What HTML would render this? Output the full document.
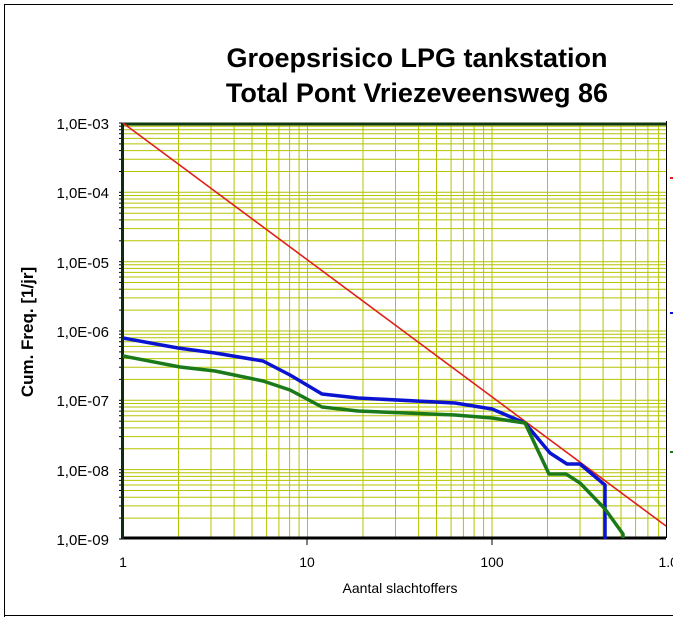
<!DOCTYPE html>
<html><head><meta charset="utf-8"><style>
html,body{margin:0;padding:0;background:#fff;width:673px;height:617px;overflow:hidden;}
svg{display:block;font-family:"Liberation Sans",Arial,sans-serif;overflow:hidden;}
</style></head><body>
<svg width="673" height="617" viewBox="0 0 673 617" xmlns="http://www.w3.org/2000/svg">
<rect x="0" y="0" width="673" height="617" fill="#fff"/>
<path d="M4.5,617 V4.5 H673 M4.5,615.5 H673" fill="none" stroke="#000" stroke-width="1"/>
<text x="417" y="67" text-anchor="middle" font-size="27" font-weight="bold">Groepsrisico LPG tankstation</text>
<text x="417" y="102" text-anchor="middle" font-size="27" font-weight="bold">Total Pont Vriezeveensweg 86</text>
<text x="400" y="593" text-anchor="middle" font-size="14">Aantal slachtoffers</text>
<text transform="translate(33,332) rotate(-90)" text-anchor="middle" font-size="17" font-weight="bold">Cum. Freq. [1/jr]</text>
<g font-size="15" text-anchor="end">
<text x="109" y="129">1,0E-03</text>
<text x="109" y="198">1,0E-04</text>
<text x="109" y="268">1,0E-05</text>
<text x="109" y="337">1,0E-06</text>
<text x="109" y="406">1,0E-07</text>
<text x="109" y="476">1,0E-08</text>
<text x="109" y="545">1,0E-09</text>
</g>
<g font-size="14" text-anchor="middle">
<text x="123" y="567">1</text>
<text x="307" y="567">10</text>
<text x="492" y="567">100</text>
<text x="676" y="567">1.000</text>
</g>
</svg>
<script>
(function(){
var svg=document.querySelector('svg');var ns='http://www.w3.org/2000/svg';
function el(t,a){var e=document.createElementNS(ns,t);for(var k in a)e.setAttribute(k,a[k]);return e;}
var X=function(n){return 123+184.5*Math.log10(n);};
var Y=function(f){return 123+69.33*(-3-Math.log10(f));};
var g=el('g',{stroke:'#b5c400','stroke-width':'1'});
for(var d=0;d<3;d++)for(var m=1;m<10;m++){var x=X(m*Math.pow(10,d));if(x>666)continue;if(m==1&&d==0)continue;
g.appendChild(el('line',{x1:x.toFixed(1),x2:x.toFixed(1),y1:123,y2:538}));}
for(var e=-9;e<-2;e++)for(var m=1;m<10;m++){var y=Y(m*Math.pow(10,e));if(y<123)continue;
g.appendChild(el('line',{x1:123,x2:666,y1:y.toFixed(1),y2:y.toFixed(1)}));
g.appendChild(el('line',{x1:119,x2:123,y1:y.toFixed(1),y2:y.toFixed(1),stroke:'#000'}));}
var title=svg.querySelectorAll('text')[1];
svg.insertBefore(g,title.nextSibling);
var ax=el('g',{});
ax.appendChild(el('line',{x1:666.5,y1:121,x2:666.5,y2:538,stroke:'#000','stroke-width':1}));
ax.appendChild(el('line',{x1:122,y1:124,x2:666,y2:124,stroke:'#0f3a0f','stroke-width':3}));
ax.appendChild(el('line',{x1:122,y1:538,x2:666,y2:538,stroke:'#000','stroke-width':3}));
ax.appendChild(el('line',{x1:122.5,y1:123,x2:122.5,y2:539,stroke:'#0f2a0f','stroke-width':3}));
[307,492].forEach(function(x){ax.appendChild(el('line',{x1:x,x2:x,y1:538,y2:545,stroke:'#000'}));});
ax.appendChild(el('polyline',{points:'123,123 666,526',fill:'none',stroke:'#e0201a','stroke-width':1.6}));
ax.appendChild(el('polyline',{points:'123,338 178,348 215,353 263,361 290,375 322,394 358,398 455,403 492,409 525,423 550,453 567,464 580,464 605,485 605,539',fill:'none',stroke:'#0a14d0','stroke-width':3.5,'stroke-linejoin':'round'}));
ax.appendChild(el('polyline',{points:'123,356 180,367 215,371 263,381 290,390 322,407 358,411 455,415 492,418 525,423 549,474 566,474 580,483 605,509 623,534 623,538',fill:'none',stroke:'#1a7a1a','stroke-width':3.5,'stroke-linejoin':'round'}));
ax.appendChild(el('line',{x1:670,x2:673,y1:178,y2:178,stroke:'#e0201a','stroke-width':2}));
ax.appendChild(el('line',{x1:670,x2:673,y1:313,y2:313,stroke:'#0a14d0','stroke-width':2}));
ax.appendChild(el('line',{x1:670,x2:673,y1:452,y2:452,stroke:'#1a7a1a','stroke-width':2}));
svg.appendChild(ax);
})();
</script>
</body></html>
